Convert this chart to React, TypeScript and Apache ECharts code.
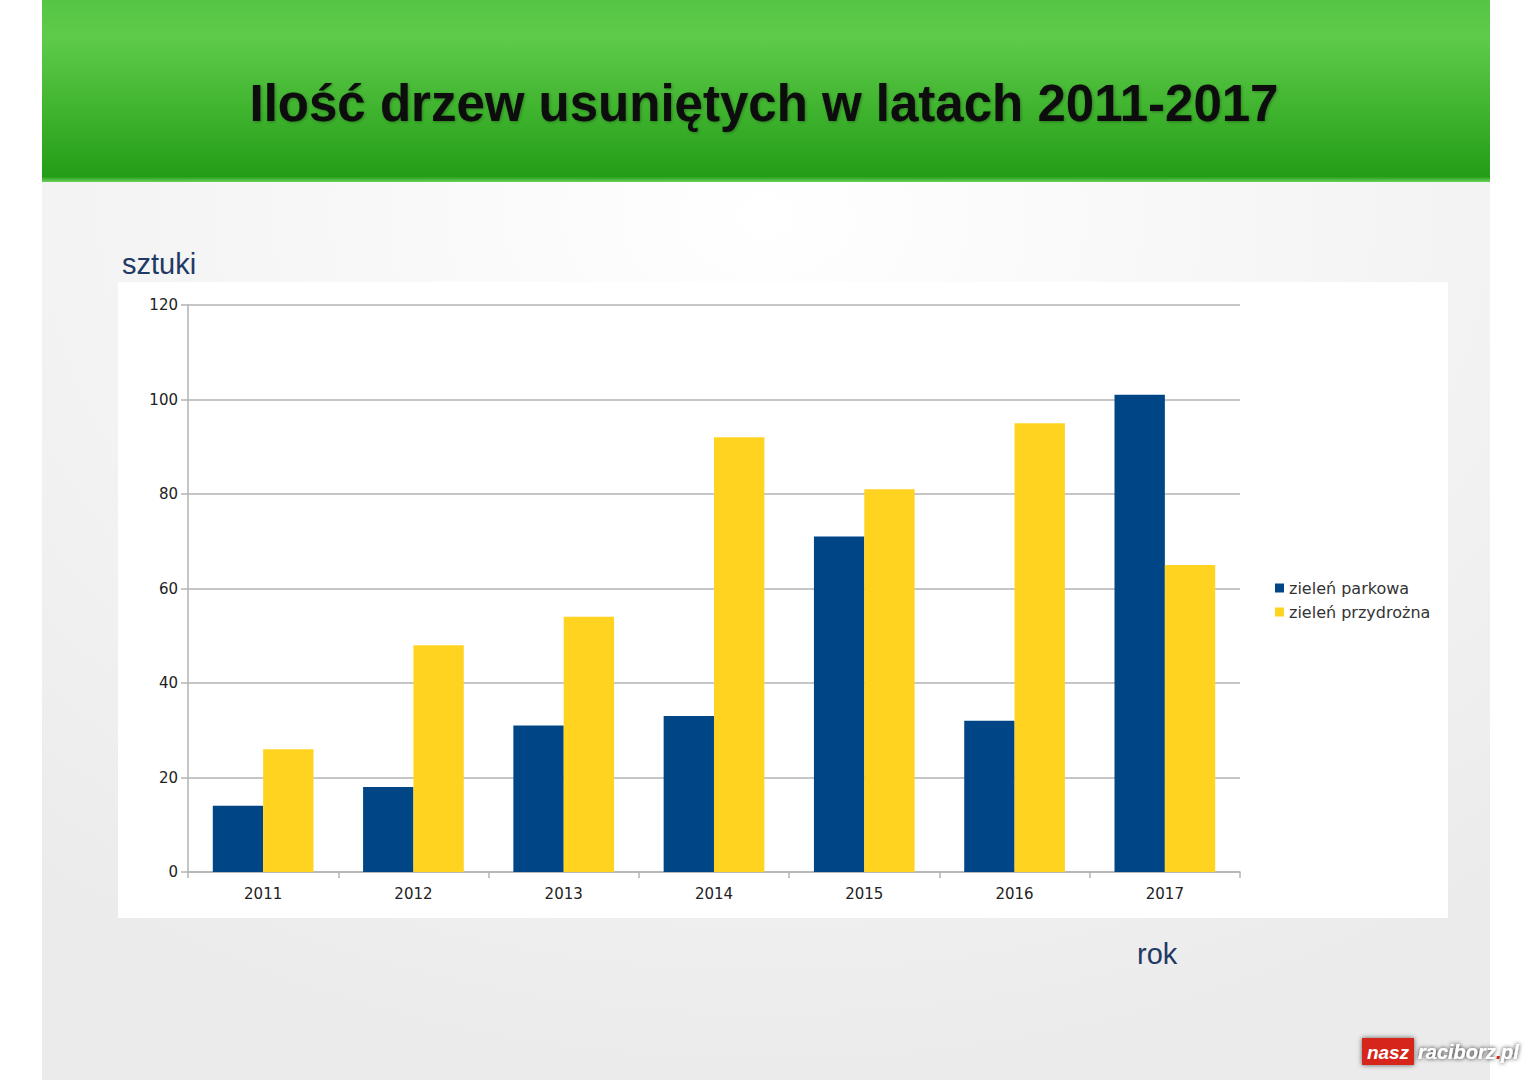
import React, { useEffect, useRef } from "react";
import * as echarts from "echarts";

const years = ["2011", "2012", "2013", "2014", "2015", "2016", "2017"];
const parkowa = [14, 18, 31, 33, 71, 32, 101];
const przydrozna = [26, 48, 54, 92, 81, 95, 65];
const seriesNames = ["zieleń parkowa", "zieleń przydrożna"];
const yTicks = { min: 0, max: 120, interval: 20 };
const titleText = "Ilość drzew usuniętych w latach 2011-2017";
const yAxisTitle = "sztuki";
const xAxisTitle = "rok";

export default function App() {
  const ref = useRef<HTMLDivElement>(null);
  useEffect(() => {
    if (!ref.current) return;
    const chart = echarts.init(ref.current, null, { renderer: "svg" });
    const font = "Liberation Sans, Arial, sans-serif";
    const chartFont = "DejaVu Sans, sans-serif";
    const logoFont = "italic bold 20px " + font;
    chart.setOption({
      animation: false,
      backgroundColor: "#ffffff",
      textStyle: { fontFamily: chartFont },
      graphic: {
        elements: [
          {
            type: "rect",
            z: -100,
            shape: { x: 42, y: 0, width: 1448, height: 1080 },
            style: {
              fill: new echarts.graphic.RadialGradient(0.5, 0.2, 0.8, [
                { offset: 0, color: "#ffffff" },
                { offset: 1, color: "#ebebeb" },
              ]),
            },
          },
          {
            type: "rect",
            z: -99,
            shape: { x: 42, y: 0, width: 1448, height: 182 },
            style: {
              fill: new echarts.graphic.LinearGradient(0, 0, 0, 1, [
                { offset: 0, color: "#55c444" },
                { offset: 0.2, color: "#5fcb4b" },
                { offset: 0.6, color: "#40b42f" },
                { offset: 0.97, color: "#239d17" },
                { offset: 1, color: "#6cd15a" },
              ]),
            },
          },
          {
            type: "rect",
            z: -98,
            shape: { x: 118, y: 282, width: 1330, height: 636 },
            style: { fill: "#ffffff" },
          },
          {
            type: "text",
            z: 10,
            x: 764,
            y: 103,
            style: {
              text: titleText,
              fill: "#0a0a0a",
              font: "bold 51px " + font,
              align: "center",
              verticalAlign: "middle",
              textShadowColor: "rgba(0,0,0,0.3)",
              textShadowBlur: 3,
              textShadowOffsetX: 1,
              textShadowOffsetY: 1,
            },
          },
          {
            type: "text",
            z: 10,
            x: 122,
            y: 264,
            style: {
              text: yAxisTitle,
              fill: "#1f3a64",
              font: "29px " + font,
              align: "left",
              verticalAlign: "middle",
            },
          },
          {
            type: "text",
            z: 10,
            x: 1137,
            y: 954,
            style: {
              text: xAxisTitle,
              fill: "#1f3a64",
              font: "29px " + font,
              align: "left",
              verticalAlign: "middle",
            },
          },
          {
            type: "rect",
            z: 10,
            shape: { x: 1362, y: 1038, width: 52, height: 27 },
            style: {
              fill: "#d6261c",
              shadowColor: "rgba(0,0,0,0.6)",
              shadowBlur: 5,
            },
          },
          {
            type: "text",
            z: 11,
            x: 1388,
            y: 1052,
            style: {
              text: "nasz",
              fill: "#ffffff",
              font: "italic bold 19px " + font,
              align: "center",
              verticalAlign: "middle",
            },
          },
          {
            type: "text",
            z: 11,
            x: 1418,
            y: 1052,
            style: {
              text: "raciborz",
              fill: "#ffffff",
              font: logoFont,
              align: "left",
              verticalAlign: "middle",
              textShadowColor: "rgba(0,0,0,0.9)",
              textShadowBlur: 4,
            },
          },
          {
            type: "text",
            z: 11,
            x: 1496,
            y: 1052,
            style: {
              text: ".",
              fill: "#d6261c",
              font: logoFont,
              align: "left",
              verticalAlign: "middle",
            },
          },
          {
            type: "text",
            z: 11,
            x: 1501,
            y: 1052,
            style: {
              text: "pl",
              fill: "#ffffff",
              font: logoFont,
              align: "left",
              verticalAlign: "middle",
              textShadowColor: "rgba(0,0,0,0.9)",
              textShadowBlur: 4,
            },
          },
        ],
      },
      grid: { left: 188, top: 305, right: 289, bottom: 208, containLabel: false },
      legend: {
        orient: "vertical",
        left: 1270,
        top: 575,
        itemWidth: 9,
        itemHeight: 9,
        itemGap: 8,
        icon: "rect",
        textStyle: { fontSize: 16, color: "#333333", fontFamily: chartFont },
        data: seriesNames,
      },
      xAxis: {
        type: "category",
        data: years,
        axisLine: { lineStyle: { color: "#b3b3b3", width: 1.5 } },
        axisTick: { show: true, length: 6, lineStyle: { color: "#b3b3b3", width: 1.5 } },
        axisLabel: { color: "#222222", fontSize: 15, margin: 14, fontFamily: chartFont },
      },
      yAxis: {
        type: "value",
        min: yTicks.min,
        max: yTicks.max,
        interval: yTicks.interval,
        axisLine: { show: true, lineStyle: { color: "#b3b3b3", width: 1.5 } },
        axisTick: { show: true, length: 7, lineStyle: { color: "#b3b3b3", width: 1.5 } },
        splitLine: { lineStyle: { color: "#b3b3b3", width: 1.5 } },
        axisLabel: { color: "#222222", fontSize: 15, margin: 10, fontFamily: chartFont },
      },
      series: [
        {
          name: seriesNames[0],
          type: "bar",
          data: parkowa,
          itemStyle: { color: "#004586" },
          barGap: "0%",
          barCategoryGap: "33%",
        },
        {
          name: seriesNames[1],
          type: "bar",
          data: przydrozna,
          itemStyle: { color: "#ffd320" },
          barGap: "0%",
          barCategoryGap: "33%",
        },
      ],
    });
    return () => chart.dispose();
  }, []);
  return (
    <div
      ref={ref}
      style={{ position: "fixed", left: 0, top: 0, width: 1529, height: 1080 }}
    />
  );
}
